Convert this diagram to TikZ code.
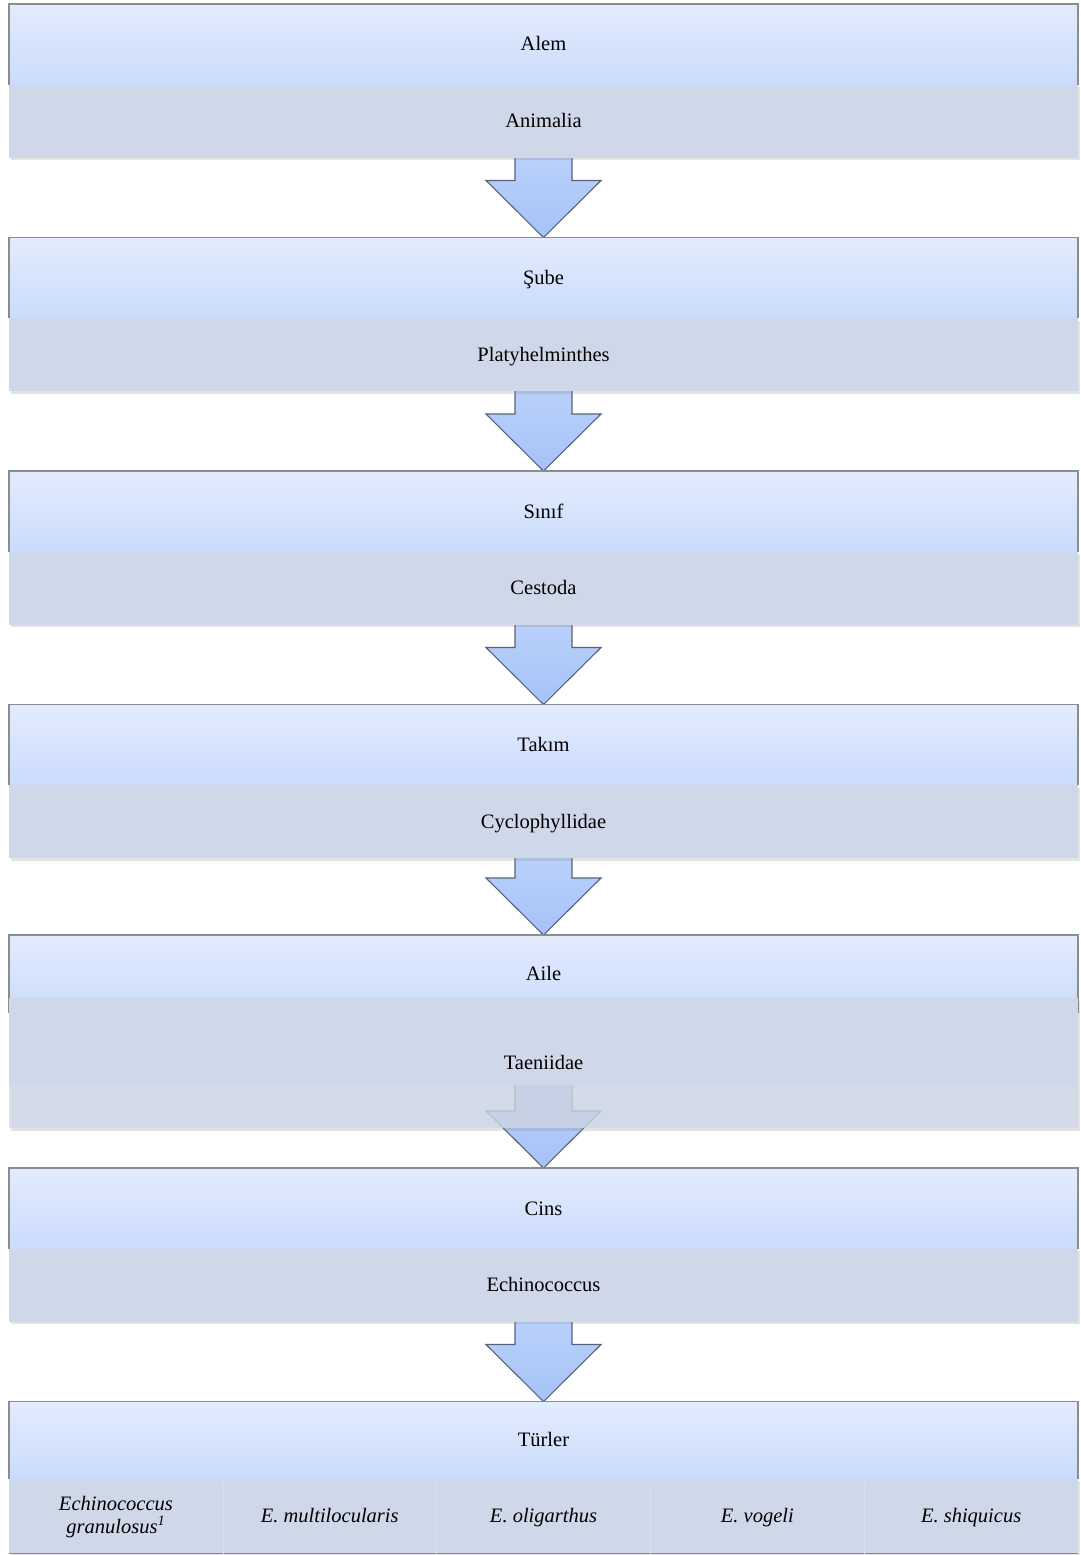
\documentclass[tikz,border=0pt]{standalone}
\usepackage{fontspec}
\setmainfont{Liberation Serif}
\usepackage{xcolor}
\usepackage{tikz}
\usetikzlibrary{positioning, calc, backgrounds, shadows}
\definecolor{HdrTop}{HTML}{E3ECFD}
\definecolor{HdrBot}{HTML}{CADBFC}
\definecolor{BandFill}{HTML}{CFD8E8}
\definecolor{ArrowTop}{HTML}{B9D0FA}
\definecolor{ArrowBot}{HTML}{A6C3F7}
\definecolor{ArrowLine}{HTML}{57637B}
\definecolor{HdrLine}{HTML}{8A8C90}
\definecolor{BandLine}{HTML}{7D8AA3}
\tikzset{
    rankbox/.style={rectangle, minimum width=1069pt, minimum height=80.5pt, inner sep=0pt, outer sep=0pt,
        top color=HdrTop, bottom color=HdrBot, text height=14pt, text depth=0.5pt,
        font=\fontsize{20.5}{23}\selectfont},
    taxonbox/.style={rectangle, minimum width=1069pt, minimum height=73pt, inner sep=0pt, outer sep=0pt,
        fill=BandFill, text height=14pt, text depth=0.5pt, font=\fontsize{20.5}{23}\selectfont,
        drop shadow={opacity=0.22, shadow xshift=1.5pt, shadow yshift=-2.5pt}},
    speciesbox/.style={rectangle, minimum width=213.8pt, minimum height=73pt, inner sep=0pt, outer sep=0pt,
        align=center, font=\fontsize{20.5}{23}\selectfont\itshape,
        execute at begin node=\strut, execute at end node=\strut},
    rankedge/.style={draw=HdrLine, line width=1.4pt},
    colsep/.style={draw=BandFill!82!white, line width=0.6pt},
    downarrow/.style={top color=ArrowTop, bottom color=ArrowBot, draw=ArrowLine, line width=1.1pt},
}
% gray frame on top and sides of a rank header
\newcommand{\rankedge}[1]{\draw[rankedge] (#1.south west) -- (#1.north west) -- (#1.north east) -- (#1.south east);}
% block arrow from a band down to the next header
\newcommand{\downarr}[2]{\draw[downarrow] ($(#1)+(-28.5,0)$) |- ($(#2)+(-57.5,-57)$) -- (#2)
    -- ($(#2)+(57.5,-57)$) -| ($(#1)+(28.5,0)$);}

\begin{document}
\begin{tikzpicture}[x=1pt, y=-1pt, node distance=80pt]
    \useasboundingbox (0,0) rectangle (1080,1555);

    % Alem
    \node[rankbox, anchor=north] (alem) at (543.5,4) {Alem};
    \rankedge{alem}
    \node[taxonbox, below=0pt of alem] (animalia) {Animalia};

    % Sube
    \node[rankbox, below=of animalia] (sube) {Şube};
    \rankedge{sube}
    \node[taxonbox, below=0pt of sube] (platy) {Platyhelminthes};

    % Sinif
    \node[rankbox, below=of platy] (sinif) {Sınıf};
    \rankedge{sinif}
    \node[taxonbox, below=0pt of sinif] (cestoda) {Cestoda};

    % Takim
    \node[rankbox, below=of cestoda] (takim) {Takım};
    \rankedge{takim}
    \node[taxonbox, below=0pt of takim] (cyclo) {Cyclophyllidae};

    % Aile (band is taller, lower part see-through)
    \node[rankbox, minimum height=78pt, below=77pt of cyclo] (aile) {Aile};
    \rankedge{aile}
    \node[taxonbox, drop shadow={opacity=0}, minimum height=130pt, below=-15pt of aile, fill opacity=0.78, text opacity=1,
        path picture={\fill[BandFill, fill opacity=1] (path picture bounding box.north west)
            rectangle ([yshift=43pt]path picture bounding box.south east);}] (taenia) {Taeniidae};
    \coordinate (taeniasolid) at ($(taenia.south)+(0,-43)$);

    % Cins
    \node[rankbox, below=40pt of taenia] (cins) {Cins};
    \rankedge{cins}
    \node[taxonbox, below=0pt of cins] (echino) {Echinococcus};

    % Turler
    \node[rankbox, minimum height=77pt, below=of echino] (turler) {Türler};
    \rankedge{turler}
    \node[taxonbox, minimum height=75pt, below=0pt of turler] (species) {};
    \draw[BandLine, line width=1.2pt] (species.south west) -- (species.south east);
    \node[speciesbox, anchor=west, yshift=-2pt] (granulosus) at (species.west) {Echinococcus\\granulosus\textsuperscript{1}};
    \node[speciesbox, right=0pt of granulosus] (multi) {E. multilocularis};
    \node[speciesbox, right=0pt of multi] (oligarthus) {E. oligarthus};
    \node[speciesbox, right=0pt of oligarthus] (vogeli) {E. vogeli};
    \node[speciesbox, right=0pt of vogeli] (shiquicus) {E. shiquicus};
    \foreach \sp in {granulosus, multi, oligarthus, vogeli}
        \draw[colsep] (\sp.north east) -- (\sp.south east);

    % arrows between the ranks
    \begin{scope}[on background layer]
        \downarr{animalia.south}{sube.north}
        \downarr{platy.south}{sinif.north}
        \downarr{cestoda.south}{takim.north}
        \downarr{cyclo.south}{aile.north}
        \downarr{taeniasolid}{cins.north}
        \downarr{echino.south}{turler.north}
    \end{scope}
\end{tikzpicture}
\end{document}
